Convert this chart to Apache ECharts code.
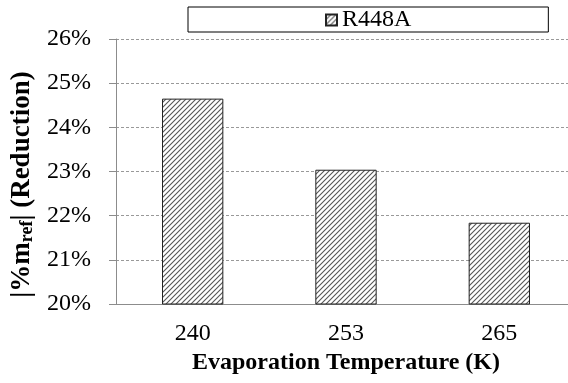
<!DOCTYPE html>
<html>
<head>
<meta charset="utf-8">
<script src="https://cdn.jsdelivr.net/npm/echarts@6/dist/echarts.min.js"></script>
<style>
  html, body { margin: 0; padding: 0; background: #fff; }
  #chart { width: 568px; height: 383px; }
</style>
</head>
<body>
<div id="chart"></div>
<script>
// Refrigerant mass reduction by evaporation temperature
const temperatures = ['240', '253', '265'];
const r448aReduction = [24.65, 23.04, 21.84];
const seriesName = 'R448A';
const yTicks = { min: 20, max: 26, interval: 1 };

// Diagonal hatch fill
function hatchPattern() {
  const c = document.createElement('canvas');
  const s = 5;
  c.width = s; c.height = s;
  const g = c.getContext('2d');
  g.fillStyle = '#ffffff';
  g.fillRect(0, 0, s, s);
  g.strokeStyle = '#555555';
  g.lineWidth = 1.1;
  g.beginPath();
  g.moveTo(-1, s + 1); g.lineTo(s + 1, -1);
  g.moveTo(-1, 1); g.lineTo(1, -1);
  g.moveTo(s - 1, s + 1); g.lineTo(s + 1, s - 1);
  g.stroke();
  return { image: c, repeat: 'repeat' };
}

const font = '"Liberation Serif", "Times New Roman", serif';
const fs = 24;
const chart = echarts.init(document.getElementById('chart'), null, { renderer: 'canvas' });

chart.setOption({
  animation: false,
  textStyle: { fontFamily: font, color: '#000' },
  legend: {
    left: 188, top: 7,
    padding: [1, 137, 0, 137],
    borderColor: '#000', borderWidth: 1,
    itemWidth: 11, itemHeight: 11, itemGap: 6,
    icon: 'rect',
    textStyle: { fontFamily: font, fontSize: fs, color: '#000' },
    data: [seriesName]
  },
  grid: { left: 116, width: 460, top: 39, bottom: 79, containLabel: false, outerBoundsMode: 'none' },
  xAxis: {
    type: 'category',
    data: temperatures,
    axisLine: { lineStyle: { color: '#8c8c8c', width: 1 } },
    axisTick: { show: false },
    axisLabel: { fontFamily: font, fontSize: fs, color: '#000', margin: 18 },
    name: 'Evaporation Temperature (K)',
    nameLocation: 'middle',
    nameGap: 44,
    nameTextStyle: { fontFamily: font, fontSize: fs, fontWeight: 'bold', color: '#000' }
  },
  yAxis: {
    type: 'value',
    min: yTicks.min, max: yTicks.max, interval: yTicks.interval,
    axisLine: { show: true, lineStyle: { color: '#8c8c8c', width: 1 } },
    axisTick: { show: true, length: 7, lineStyle: { color: '#8c8c8c' } },
    axisLabel: { fontFamily: font, fontSize: fs, color: '#000', margin: 25, formatter: v => v + '%' },
    splitLine: { show: true, lineStyle: { color: '#999', type: [3, 2], width: 1 } },
    name: '{b||%m}{sub|ref}{b|| (Reduction)}',
    nameLocation: 'middle',
    nameGap: 79,
    nameRotate: 90,
    nameTextStyle: {
      fontFamily: font, fontSize: 27, fontWeight: 'bold', color: '#000',
      padding: [0, 26, 0, 0],
      rich: {
        b: { fontFamily: font, fontSize: 27, fontWeight: 'bold', color: '#000' },
        sub: { fontFamily: font, fontSize: 18, fontWeight: 'bold', color: '#000', verticalAlign: 'bottom', padding: [10, 0, 0, 0] }
      }
    }
  },
  series: [{
    name: seriesName,
    type: 'bar',
    data: r448aReduction,
    barWidth: '40%',
    itemStyle: { color: hatchPattern(), borderColor: '#222', borderWidth: 1 }
  }]
});
</script>
</body>
</html>
